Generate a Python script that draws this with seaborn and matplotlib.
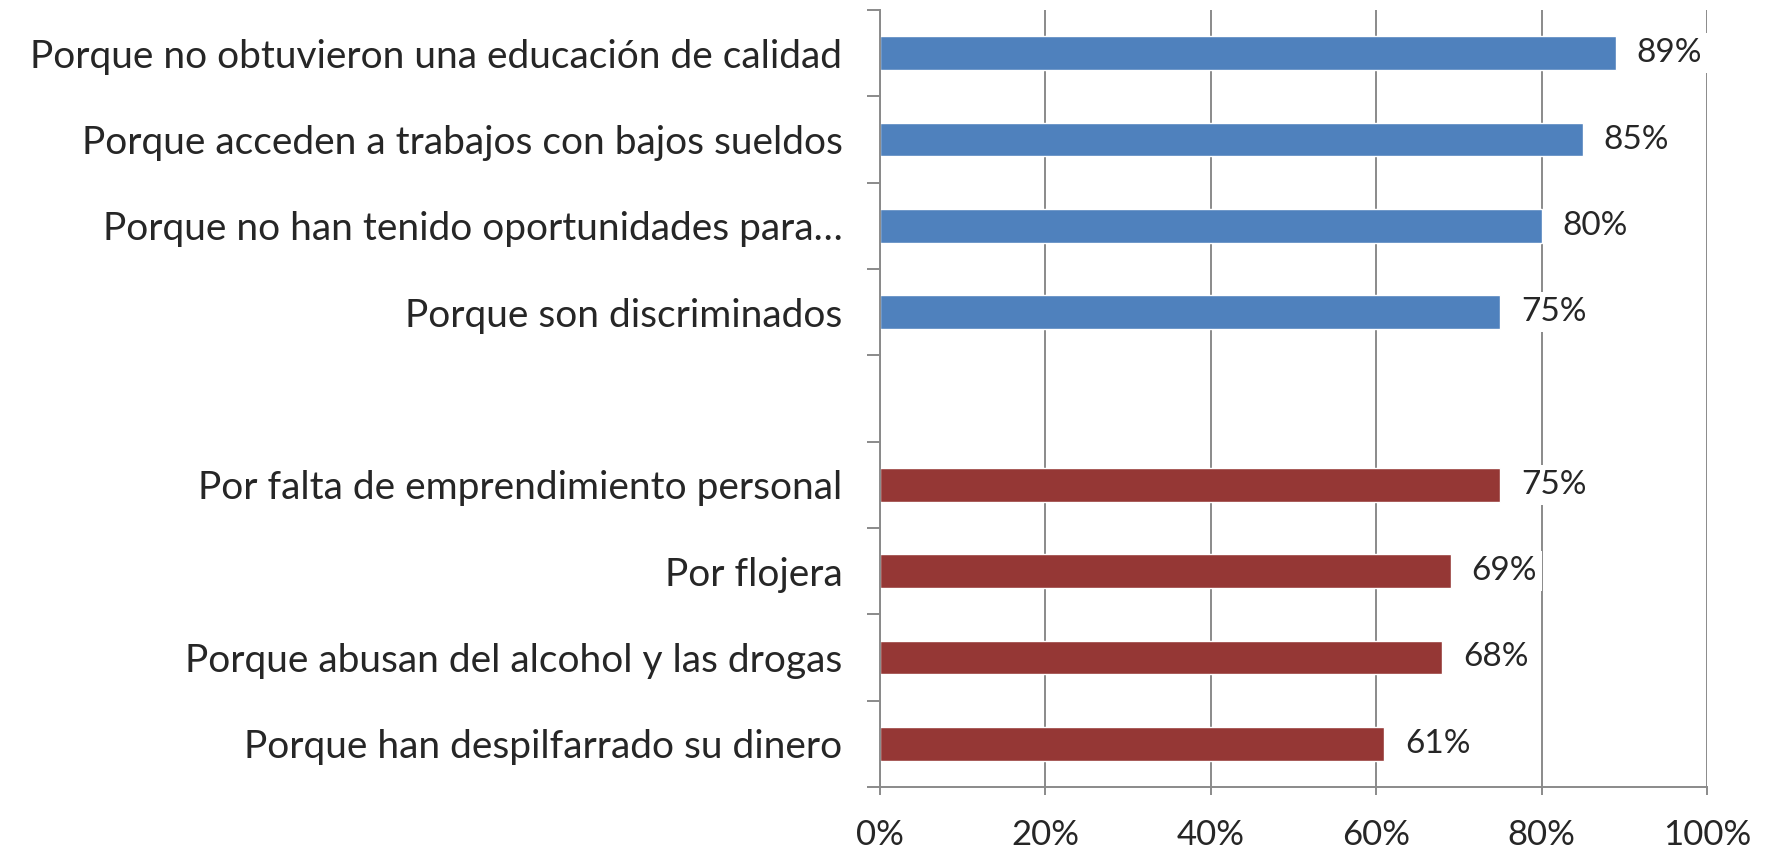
import matplotlib
matplotlib.use("Agg")
import matplotlib.pyplot as plt
import seaborn as sns
import pandas as pd
from matplotlib.ticker import FixedLocator, PercentFormatter

categories = [
    "Porque no obtuvieron una educación de calidad",
    "Porque acceden a trabajos con bajos sueldos",
    "Porque no han tenido oportunidades para…",
    "Porque son discriminados",
    "Por falta de emprendimiento personal",
    "Por flojera",
    "Porque abusan del alcohol y las drogas",
    "Porque han despilfarrado su dinero",
]
values = [89, 85, 80, 75, 75, 69, 68, 61]
groups = ["externas"] * 4 + ["internas"] * 4
order = categories[:4] + [" "] + categories[4:]
x_ticks = [0, 20, 40, 60, 80, 100]

df = pd.DataFrame({"cat": categories, "val": values, "grp": groups})

sns.set_style("white")
plt.rcParams["font.family"] = ["Lato", "DejaVu Sans"]

fig = plt.figure(figsize=(17.66, 8.52), dpi=100)
ax = fig.add_axes([880 / 1766, 1 - 787 / 852, (1707 - 880) / 1766, (787 - 10) / 852])

sns.barplot(data=df, x="val", y="cat", hue="grp", order=order,
            palette={"externas": "#4F81BD", "internas": "#953735"},
            width=0.39, dodge=False, legend=False, ax=ax, saturation=1)

ax.set_xlim(0, 100)
ax.set_ylim(len(order) - 0.5, -0.5)
ax.set_xlabel("")
ax.set_ylabel("")

grid_c = "#8a8a8a"
ax.xaxis.set_major_locator(FixedLocator(x_ticks))
ax.xaxis.set_major_formatter(PercentFormatter(100, decimals=0))
ax.grid(axis="x", color=grid_c, linewidth=1.4)
ax.set_axisbelow(True)

for s in ["top", "right"]:
    ax.spines[s].set_visible(False)
for s in ["left", "bottom"]:
    ax.spines[s].set_color(grid_c)
    ax.spines[s].set_linewidth(1.4)

ax.tick_params(axis="x", direction="out", length=6, width=1.4, color=grid_c,
               labelsize=25, pad=17, bottom=True)
ax.tick_params(axis="y", which="major", length=0, labelsize=28, pad=27)
ax.yaxis.set_minor_locator(FixedLocator([i - 0.5 for i in range(len(order) + 1)]))
ax.tick_params(axis="y", which="minor", direction="out", length=9.5, width=1.4,
               color=grid_c, left=True)

ypos = {c: i for i, c in enumerate(order)}
for c, v in zip(categories, values):
    ax.annotate(f"{v}%", xy=(v, ypos[c]), xytext=(15, 0), textcoords="offset points",
                ha="left", va="center", fontsize=24,
                bbox=dict(boxstyle="square,pad=0.15", fc="white", ec="none"))

fig.savefig("out.png", dpi=100, facecolor="white")
